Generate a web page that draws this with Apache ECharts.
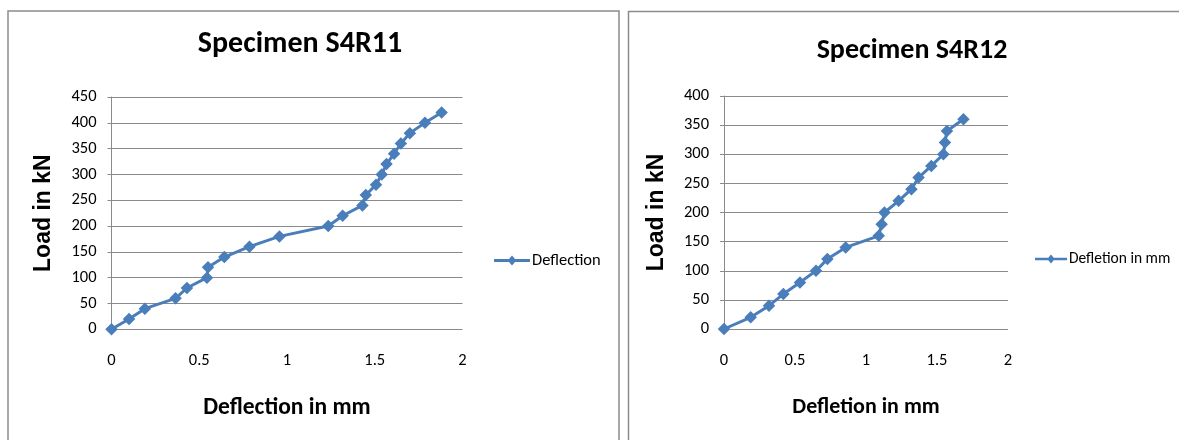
<!DOCTYPE html>
<html>
<head>
<meta charset="utf-8">
<script src="https://cdn.jsdelivr.net/npm/echarts@6/dist/echarts.min.js"></script>
<style>
html,body{margin:0;padding:0;background:#fff;}
#c{width:1179px;height:440px;}
</style>
</head>
<body>
<div id="c"></div>
<script>
// S4R11
const s4r11Deflection = [0, 0.10, 0.19, 0.365, 0.43, 0.544, 0.55, 0.643, 0.786, 0.957, 1.235, 1.317, 1.43, 1.449, 1.507, 1.54, 1.567, 1.61, 1.649, 1.70, 1.786, 1.881];
const s4r11Load = [0, 20, 40, 60, 80, 100, 120, 140, 160, 180, 200, 220, 240, 260, 280, 300, 320, 340, 360, 380, 400, 420];
// S4R12
const s4r12Deflection = [0, 0.188, 0.317, 0.418, 0.535, 0.648, 0.728, 0.857, 1.09, 1.11, 1.13, 1.23, 1.32, 1.37, 1.46, 1.545, 1.556, 1.57, 1.686];
const s4r12Load = [0, 20, 40, 60, 80, 100, 120, 140, 160, 180, 200, 220, 240, 260, 280, 300, 320, 340, 360];

const titles = ['Specimen S4R11', 'Specimen S4R12'];
const seriesNames = ['Deflection', 'Defletion in mm'];
const xNames = ['Deflection in mm', 'Defletion in mm'];
const yName = 'Load in kN';

const CAL = 'Carlito, "Liberation Sans Narrow", Lato, sans-serif';
const ARIAL = '"Liberation Sans", Arial, sans-serif';
const BLUE = '#4A7EBB';
const GRIDC = '#8a8a8a';
const LEGEND_ICON = 'path://M0,4 L15,4 L18,0.5 L21,4 L36,4 L36,7 L21,7 L18,10.5 L15,7 L0,7 Z';

function zip(a, b) { return a.map((v, i) => [v, b[i]]); }

function xAxis(i, name, nameSize) {
  return {
    type: 'value', gridIndex: i, min: 0, max: 2, interval: 0.5,
    axisLine: { show: false }, axisTick: { show: false }, splitLine: { show: false },
    axisLabel: { color: '#000', fontFamily: CAL, fontSize: 16.5, margin: 23 },
    name: name, nameLocation: 'middle', nameGap: 67,
    nameTextStyle: { color: '#000', fontFamily: CAL, fontSize: nameSize, fontWeight: 'bold' }
  };
}
function yAxis(i, max, margin) {
  return {
    type: 'value', gridIndex: i, min: 0, max: max, interval: 50,
    axisLine: { show: true, lineStyle: { color: GRIDC, width: 1 } },
    axisTick: { show: true, length: 4, lineStyle: { color: GRIDC } },
    splitLine: { show: true, lineStyle: { color: GRIDC, width: 1 } },
    axisLabel: { color: '#000', fontFamily: CAL, fontSize: 16.5, margin: margin },
    name: yName, nameLocation: 'middle', nameRotate: 90, nameGap: 56,
    nameTextStyle: { color: '#000', fontFamily: ARIAL, fontSize: 23, fontWeight: 'bold' }
  };
}
function series(i, name, data) {
  return {
    type: 'line', name: name, xAxisIndex: i, yAxisIndex: i, data: data,
    symbol: 'diamond', symbolSize: 12.5, showSymbol: true,
    lineStyle: { color: BLUE, width: 3 },
    itemStyle: { color: BLUE },
    animation: false
  };
}

const chart = echarts.init(document.getElementById('c'));
chart.setOption({
  backgroundColor: '#fff',
  animation: false,
  graphic: [
    { type: 'rect', shape: { x: 8, y: 11, width: 611, height: 440 }, style: { fill: 'none', stroke: '#8c8c8c', lineWidth: 1.5 }, z: -1 },
    { type: 'rect', shape: { x: 628.5, y: 11.5, width: 600, height: 440 }, style: { fill: 'none', stroke: '#8c8c8c', lineWidth: 1.5 }, z: -1 }
  ],
  title: [
    { text: titles[0], left: 295, top: 24, textAlign: 'center', textStyle: { color: '#000', fontFamily: CAL, fontSize: 30, fontWeight: 'bold' } },
    { text: titles[1], left: 907, top: 32, textAlign: 'center', textStyle: { color: '#000', fontFamily: CAL, fontSize: 28, fontWeight: 'bold' } }
  ],
  legend: [
    { data: [{ name: seriesNames[0], icon: LEGEND_ICON }], left: 494, top: 252, padding: 0,
      itemWidth: 36, itemHeight: 11, itemGap: 4,
      textStyle: { color: '#000', fontFamily: CAL, fontSize: 16.5, padding: [0, 0, 0, -3] } },
    { data: [{ name: seriesNames[1], icon: LEGEND_ICON }], left: 1035, top: 251, padding: 0,
      itemWidth: 32, itemHeight: 11, itemGap: 4,
      textStyle: { color: '#000', fontFamily: CAL, fontSize: 15.5, padding: [0, 0, 0, -3] } }
  ],
  grid: [
    { left: 111.5, right: 1179 - 462.5, top: 97, bottom: 440 - 329.3 },
    { left: 724, right: 1179 - 1008, top: 96, bottom: 440 - 329 }
  ],
  xAxis: [xAxis(0, xNames[0], 23.5), xAxis(1, xNames[1], 22)],
  yAxis: [yAxis(0, 450, 15), yAxis(1, 400, 15)],
  series: [
    series(0, seriesNames[0], zip(s4r11Deflection, s4r11Load)),
    series(1, seriesNames[1], zip(s4r12Deflection, s4r12Load))
  ]
});
</script>
</body>
</html>
